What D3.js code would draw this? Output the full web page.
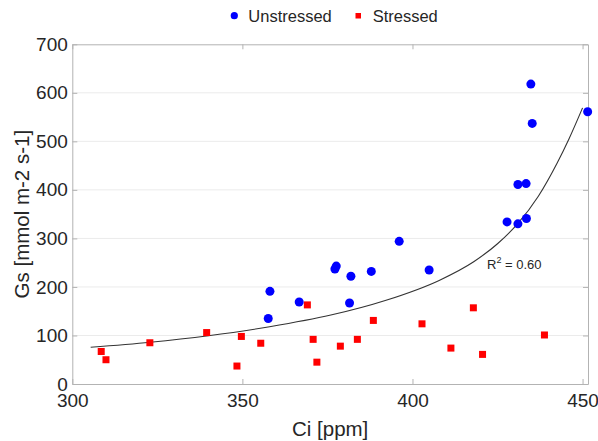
<!DOCTYPE html>
<html>
<head>
<meta charset="utf-8">
<script src="https://cdn.jsdelivr.net/npm/d3@7"></script>
<style>
  body { margin: 0; background: #fff; }
  text { font-family: "Liberation Sans", Arial, Helvetica, sans-serif; fill: #262626; }
</style>
</head>
<body>
<svg id="chart" width="598" height="441"></svg>
<script>
const unstressedCi = [357.6, 358.1, 366.7, 377.2, 377.6, 381.5, 381.9, 387.9, 396.1, 404.9, 427.8, 431.0, 433.5, 431.0, 433.4, 435.2, 434.8, 451.5];
const unstressedGs = [135, 191, 169, 237, 243, 167, 222, 232, 294, 235, 334, 330, 341, 411, 413, 537, 618, 561];

const stressedCi = [308.5, 309.9, 322.8, 339.5, 348.4, 349.7, 355.4, 369.1, 370.8, 371.9, 378.8, 383.8, 388.5, 402.8, 411.3, 417.9, 420.6, 438.8];
const stressedGs = [67, 50, 85, 106, 37, 98, 84, 163, 92, 45, 78, 92, 131, 124, 74, 157, 61, 101];

// fitted curve
const fitCi = [305.4, 322.9, 340, 358, 376, 392, 408, 418, 425, 431, 437, 442.5, 446, 450];
const fitGs = [75.6, 86, 99.5, 118, 142, 172, 214, 252, 289, 331, 387, 455, 505, 569];

const xTicks = [300, 350, 400, 450];
const yTicks = [0, 100, 200, 300, 400, 500, 600, 700];
const rSquared = "0.60";

const svg = d3.select("#chart");
const plotL = 72.3, plotR = 588, plotT = 44.3, plotB = 384;

const x = d3.scaleLinear().domain([300, 451.6]).range([plotL, plotR]);
const y = d3.scaleLinear().domain([0, 700]).range([plotB, plotT]);

// grid
svg.append("g")
  .selectAll("line")
  .data(yTicks.slice(1, -1))
  .enter().append("line")
  .attr("x1", plotL).attr("x2", plotR)
  .attr("y1", d => y(d)).attr("y2", d => y(d))
  .attr("stroke", "#ebebeb")
  .attr("stroke-width", 1);

// axes (box with inward ticks)
const axisColor = "#b3b3b3";
const gx = svg.append("g")
  .attr("transform", "translate(0," + plotB + ")")
  .call(d3.axisBottom(x).tickValues(xTicks).tickSizeInner(-5).tickSizeOuter(0).tickPadding(9.5));
const gxTop = svg.append("g")
  .attr("transform", "translate(0," + plotT + ")")
  .call(d3.axisTop(x).tickValues(xTicks).tickSizeInner(-5).tickSizeOuter(0).tickFormat(""));
const gy = svg.append("g")
  .attr("transform", "translate(" + plotL + ",0)")
  .call(d3.axisLeft(y).tickValues(yTicks).tickSizeInner(-5).tickSizeOuter(0).tickPadding(4.5));
const gyRight = svg.append("g")
  .attr("transform", "translate(" + plotR + ",0)")
  .call(d3.axisRight(y).tickValues(yTicks).tickSizeInner(-5).tickSizeOuter(0).tickFormat(""));

[gx, gxTop, gy, gyRight].forEach(g => {
  g.selectAll("path").attr("stroke", axisColor);
  g.selectAll("line").attr("stroke", axisColor);
  g.selectAll("text")
    .attr("font-size", "19px")
    .attr("font-family", "'Liberation Sans', Arial, sans-serif")
    .attr("fill", "#262626");
});

// axis titles
svg.append("text")
  .attr("x", (plotL + plotR) / 2)
  .attr("y", 436)
  .attr("text-anchor", "middle")
  .attr("font-size", "20.5px")
  .text("Ci [ppm]");

svg.append("text")
  .attr("transform", "translate(29," + (plotT + plotB) / 2 + ") rotate(-90)")
  .attr("text-anchor", "middle")
  .attr("font-size", "20.5px")
  .text("Gs [mmol m-2 s-1]");

// fitted curve
const fitData = fitCi.map((c, i) => ({ ci: c, gs: fitGs[i] }));
svg.append("path")
  .datum(fitData)
  .attr("d", d3.line().x(d => x(d.ci)).y(d => y(d.gs)).curve(d3.curveMonotoneX))
  .attr("fill", "none")
  .attr("stroke", "#333")
  .attr("stroke-width", 1.1);

// points
const stressed = stressedCi.map((c, i) => ({ ci: c, gs: stressedGs[i] }));
const unstressed = unstressedCi.map((c, i) => ({ ci: c, gs: unstressedGs[i] }));

svg.append("g")
  .selectAll("rect")
  .data(stressed)
  .enter().append("rect")
  .attr("x", d => x(d.ci) - 3.5)
  .attr("y", d => y(d.gs) - 3.5)
  .attr("width", 7)
  .attr("height", 7)
  .attr("fill", "#ff0000");

svg.append("g")
  .selectAll("circle")
  .data(unstressed)
  .enter().append("circle")
  .attr("cx", d => x(d.ci))
  .attr("cy", d => y(d.gs))
  .attr("r", 4.5)
  .attr("fill", "#0000ff");

// R squared label
const r2 = svg.append("text")
  .attr("x", 487)
  .attr("y", 269)
  .attr("font-size", "13px");
r2.append("tspan").text("R");
r2.append("tspan").attr("dy", -6).attr("font-size", "9px").text("2");
r2.append("tspan").attr("dy", 6).text(" = " + rSquared);

// legend
const legend = svg.append("g");
legend.append("circle")
  .attr("cx", 234.3).attr("cy", 15.7).attr("r", 3.6)
  .attr("fill", "#0000ff");
legend.append("text")
  .attr("x", 248.3).attr("y", 21.7)
  .attr("font-size", "16.5px")
  .text("Unstressed");
legend.append("rect")
  .attr("x", 355.5).attr("y", 13)
  .attr("width", 5.5).attr("height", 5.5)
  .attr("fill", "#ff0000");
legend.append("text")
  .attr("x", 372.7).attr("y", 21.7)
  .attr("font-size", "16.5px")
  .text("Stressed");
</script>
</body>
</html>
